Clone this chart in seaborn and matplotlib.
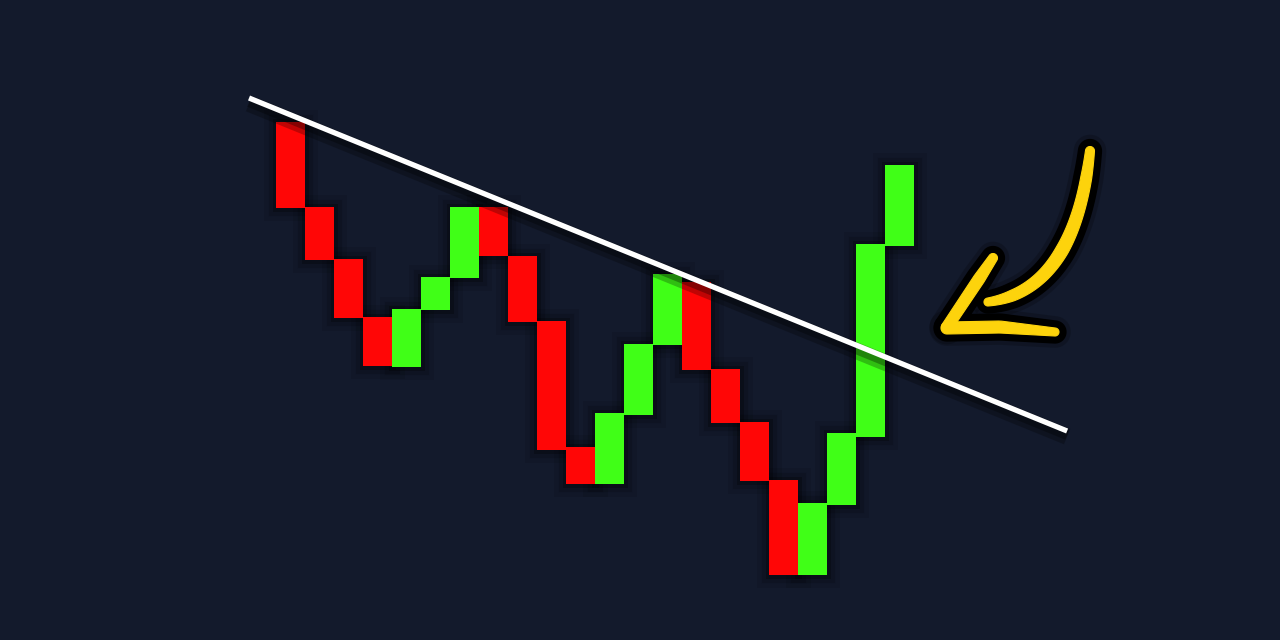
import numpy as np
import pandas as pd
import matplotlib
matplotlib.use("Agg")
import matplotlib.pyplot as plt
import matplotlib.patheffects as pe
from matplotlib.patches import Polygon
import seaborn as sns

# ---------------- data ----------------
bar_index = list(range(22))
opens  = [51.8, 43.3, 38.1, 32.3, 27.3, 33.0, 36.2, 43.3, 38.4, 31.9, 19.3,
          15.6, 22.5, 29.5, 35.8, 27.1, 21.8, 16.0, 6.5, 13.5, 20.3, 39.4]
closes = [43.2, 38.0, 32.2, 27.4, 33.1, 36.3, 43.3, 38.4, 31.8, 19.0, 15.6,
          22.7, 29.6, 36.6, 27.0, 21.7, 15.9, 6.5, 13.7, 20.7, 39.6, 47.5]
trend_x = [-1.43, 26.78]
trend_y = [54.2, 20.9]

BG = "#131a2c"
UP = "#40ff17"
DOWN = "#ff0606"
ARROW = "#fdd30c"

sns.set_theme(style="dark", rc={"axes.facecolor": BG, "figure.facecolor": BG})

df = pd.DataFrame({"i": bar_index, "open": opens, "close": closes})
df["low"] = df[["open", "close"]].min(axis=1)
df["body"] = (df["close"] - df["open"]).abs()
df["color"] = np.where(df["close"] > df["open"], UP, DOWN)

fig = plt.figure(figsize=(12.8, 6.4), dpi=100)
ax = fig.add_axes([0, 0, 1, 1])
ax.set_facecolor(BG)

# soft shadow layer under bars
ax.bar(df["i"], df["body"], bottom=df["low"], width=1.0, color="black",
       alpha=0.0, zorder=1,
       path_effects=[pe.Stroke(linewidth=18, foreground="black", alpha=0.08),
                     pe.Stroke(linewidth=11, foreground="black", alpha=0.14),
                     pe.Stroke(linewidth=5, foreground="black", alpha=0.25)])

# bodies
try:
    sns.barplot(data=df, x="i", y="body", bottom=df["low"].to_numpy(), width=1.0,
                native_scale=True, errorbar=None, color=UP, saturation=1,
                linewidth=0, ax=ax, zorder=2)
    patches = ax.patches[-len(df):]
    for p, c in zip(patches, df["color"]):
        p.set_facecolor(c)
        p.set_edgecolor("none")
except Exception:
    ax.bar(df["i"], df["body"], bottom=df["low"], width=1.0,
           color=df["color"], linewidth=0, zorder=2)

# trendline
sns.lineplot(x=trend_x, y=trend_y, color="white", linewidth=3.8, ax=ax, zorder=5,
             solid_capstyle="butt",
             path_effects=[pe.SimpleLineShadow(offset=(0, -4), shadow_color="black",
                                               alpha=0.25, linewidth=12),
                           pe.SimpleLineShadow(offset=(0, -3), shadow_color="black",
                                               alpha=0.3, linewidth=7),
                           pe.Normal()])

# axis mapping: 29 px per bar, 10 px per unit
ax.set_xlim(-10.017, 34.121)
ax.set_ylim(0, 64)
ax.axis("off")


def to_data(px, py):
    return (np.asarray(px) - 290.5) / 29.0, (640 - np.asarray(py)) / 10.0


def stroke_poly(pts, hw):
    pts = np.asarray(pts, float)
    d = np.gradient(pts, axis=0)
    d /= np.linalg.norm(d, axis=1)[:, None]
    n = np.stack([-d[:, 1], d[:, 0]], axis=1)
    left = pts + n * hw[:, None]
    right = pts - n * hw[:, None]
    arc = np.linspace(0, np.pi, 18)
    a_end = np.arctan2(n[-1, 1], n[-1, 0]) - arc
    cap_end = pts[-1] + hw[-1] * np.column_stack([np.cos(a_end), np.sin(a_end)])
    a_start = np.arctan2(-n[0, 1], -n[0, 0]) - arc
    cap_start = pts[0] + hw[0] * np.column_stack([np.cos(a_start), np.sin(a_start)])
    poly = np.vstack([left, cap_end, right[::-1], cap_start])
    x, y = to_data(poly[:, 0], poly[:, 1])
    return np.column_stack([x, y])


t = np.linspace(0, 1, 80)
P0, P1, P2 = np.array([1090, 151]), np.array([1075, 290]), np.array([988, 302])
shaft = ((1 - t) ** 2)[:, None] * P0 + (2 * (1 - t) * t)[:, None] * P1 + (t ** 2)[:, None] * P2
shaft_hw = np.interp(t, [0, 0.1, 0.45, 0.85, 1], [4.5, 5.5, 6.5, 5.5, 4.0])

tb = np.linspace(0, 1, 40)
upper = np.column_stack([np.interp(tb, [0, 1], [993, 947]), np.interp(tb, [0, 1], [258, 327])])
upper_hw = np.interp(tb, [0, 0.3, 1], [4.5, 5.8, 5.5])
lower = np.column_stack([np.interp(tb, [0, 0.5, 1], [947, 1000, 1055]),
                         np.interp(tb, [0, 0.5, 1], [328, 327, 332])])
lower_hw = np.interp(tb, [0, 0.5, 1], [6.0, 6.0, 4.0])

polys = [stroke_poly(shaft, shaft_hw), stroke_poly(upper, upper_hw), stroke_poly(lower, lower_hw)]
for poly in polys:
    ax.add_patch(Polygon(poly, closed=True, facecolor="black", edgecolor="black",
                         linewidth=17, alpha=0.2, joinstyle="round", zorder=6))
for poly in polys:
    ax.add_patch(Polygon(poly, closed=True, facecolor="black", edgecolor="black",
                         linewidth=11, joinstyle="round", zorder=7))
for poly in polys:
    ax.add_patch(Polygon(poly, closed=True, facecolor=ARROW, edgecolor=ARROW,
                         linewidth=0.8, joinstyle="round", zorder=8))

fig.savefig("out.png", dpi=100, facecolor=BG)
